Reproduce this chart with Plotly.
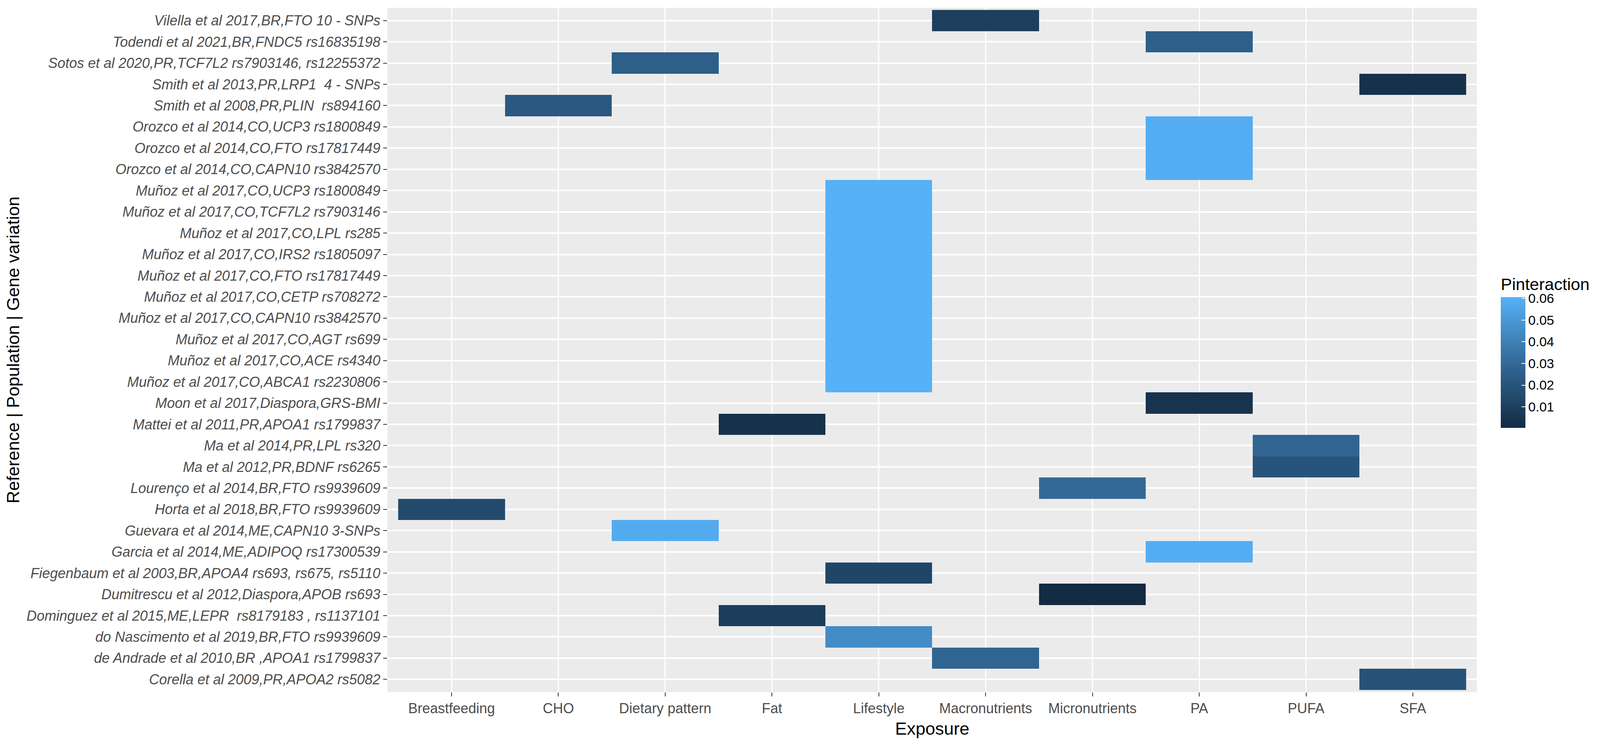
import plotly.graph_objs as go

########################
##   Data from chart   ##
########################

# rows, top to bottom as drawn
references = [
    "Vilella et al 2017,BR,FTO 10 - SNPs",
    "Todendi et al 2021,BR,FNDC5 rs16835198",
    "Sotos et al 2020,PR,TCF7L2 rs7903146, rs12255372",
    "Smith et al 2013,PR,LRP1 \u00a04 - SNPs",
    "Smith et al 2008,PR,PLIN \u00a0rs894160",
    "Orozco et al 2014,CO,UCP3 rs1800849",
    "Orozco et al 2014,CO,FTO rs17817449",
    "Orozco et al 2014,CO,CAPN10 rs3842570",
    "Muñoz et al 2017,CO,UCP3 rs1800849",
    "Muñoz et al 2017,CO,TCF7L2 rs7903146",
    "Muñoz et al 2017,CO,LPL rs285",
    "Muñoz et al 2017,CO,IRS2 rs1805097",
    "Muñoz et al 2017,CO,FTO rs17817449",
    "Muñoz et al 2017,CO,CETP rs708272",
    "Muñoz et al 2017,CO,CAPN10 rs3842570",
    "Muñoz et al 2017,CO,AGT rs699",
    "Muñoz et al 2017,CO,ACE rs4340",
    "Muñoz et al 2017,CO,ABCA1 rs2230806",
    "Moon et al 2017,Diaspora,GRS-BMI",
    "Mattei et al 2011,PR,APOA1 rs1799837",
    "Ma et al 2014,PR,LPL rs320",
    "Ma et al 2012,PR,BDNF rs6265",
    "Lourenço et al 2014,BR,FTO rs9939609",
    "Horta et al 2018,BR,FTO rs9939609",
    "Guevara et al 2014,ME,CAPN10 3-SNPs",
    "Garcia et al 2014,ME,ADIPOQ rs17300539",
    "Fiegenbaum et al 2003,BR,APOA4 rs693, rs675, rs5110",
    "Dumitrescu et al 2012,Diaspora,APOB rs693",
    "Dominguez et al 2015,ME,LEPR \u00a0rs8179183 , rs1137101",
    "do Nascimento et al 2019,BR,FTO rs9939609",
    "de Andrade et al 2010,BR ,APOA1 rs1799837",
    "Corella et al 2009,PR,APOA2 rs5082",
]

exposures = ["Breastfeeding", "CHO", "Dietary pattern", "Fat", "Lifestyle",
             "Macronutrients", "Micronutrients", "PA", "PUFA", "SFA"]

# exposure of each row (same order as references)
row_exposure = [
    "Macronutrients", "PA", "Dietary pattern", "SFA", "CHO",
    "PA", "PA", "PA",
    "Lifestyle", "Lifestyle", "Lifestyle", "Lifestyle", "Lifestyle",
    "Lifestyle", "Lifestyle", "Lifestyle", "Lifestyle", "Lifestyle",
    "PA", "Fat", "PUFA", "PUFA", "Micronutrients", "Breastfeeding",
    "Dietary pattern", "PA", "Lifestyle", "Micronutrients", "Fat",
    "Lifestyle", "Macronutrients", "SFA",
]

# P interaction
p_interaction = [
    0.010, 0.025, 0.025, 0.003, 0.022,
    0.059, 0.059, 0.059,
    0.0606, 0.0606, 0.0606, 0.0606, 0.0606,
    0.0606, 0.0606, 0.0606, 0.0606, 0.0606,
    0.004, 0.003, 0.028, 0.020, 0.030, 0.015,
    0.058, 0.059, 0.013, 0.0003, 0.009,
    0.045, 0.028, 0.019,
]

cbar_ticks = [0.01, 0.02, 0.03, 0.04, 0.05, 0.06]

#################
# Plotting time #
#################

# figure sized so it fits the visible page (body margin 8px each side)
W, H = 4080, 1895
left, right, top, bottom = 984, 3773, 12, 1765
plot_w = right - left
plot_h = bottom - top

tick_font = dict(family="Liberation Sans", size=36, color="#4D4D4D")
title_font = dict(family="Liberation Sans", size=45, color="black")

trace = go.Heatmap(
    x=row_exposure, y=references, z=p_interaction,
    zmin=min(p_interaction), zmax=max(p_interaction),
    colorscale=[[0, "#132B43"], [0.5, "#336A98"], [1, "#56B1F7"]],
    connectgaps=False,
    colorbar=dict(
        title=dict(text="Pinteraction",
                   side="top",
                   font=dict(family="Liberation Sans", size=43, color="black")),
        tickvals=cbar_ticks, ticktext=["%.2f" % t for t in cbar_ticks],
        tickfont=dict(family="Liberation Sans", size=34, color="black"),
        ticks="inside", ticklen=10, tickwidth=2, tickcolor="white",
        thickness=63, thicknessmode="pixels",
        len=388, lenmode="pixels",
        x=(3834 - left) / plot_w, xanchor="left", xpad=0,
        y=(bottom - 894) / plot_h, yanchor="middle", ypad=0,
        outlinewidth=0, borderwidth=0,
    ),
)

layout = go.Layout(
    width=W, height=H,
    margin=dict(l=left, r=W - right, t=top, b=H - bottom, pad=0),
    paper_bgcolor="white", plot_bgcolor="#EBEBEB",
    xaxis=dict(
        type="category", categoryorder="array", categoryarray=exposures,
        range=[-0.6, len(exposures) - 0.4],
        title=dict(text="Exposure", font=title_font, standoff=16),
        tickfont=tick_font, showgrid=True, gridcolor="white", gridwidth=2.5,
        ticks="outside", ticklen=10, tickwidth=2, tickcolor="#333333",
        zeroline=False, showline=False, automargin=False,
    ),
    yaxis=dict(
        type="category", categoryorder="array",
        categoryarray=list(reversed(references)),
        range=[-0.6, len(references) - 0.4],
        title=dict(text="Reference | Population | Gene variation",
                   font=title_font, standoff=8),
        tickfont=dict(family="Liberation Sans", size=36, color="#4D4D4D",
                      style="italic"),
        showgrid=True, gridcolor="white", gridwidth=4,
        ticks="outside", ticklen=10, tickwidth=2, tickcolor="#333333",
        zeroline=False, showline=False, automargin=False,
    ),
)

fig = go.Figure(data=[trace], layout=layout)
fig.write_html("out.html")
